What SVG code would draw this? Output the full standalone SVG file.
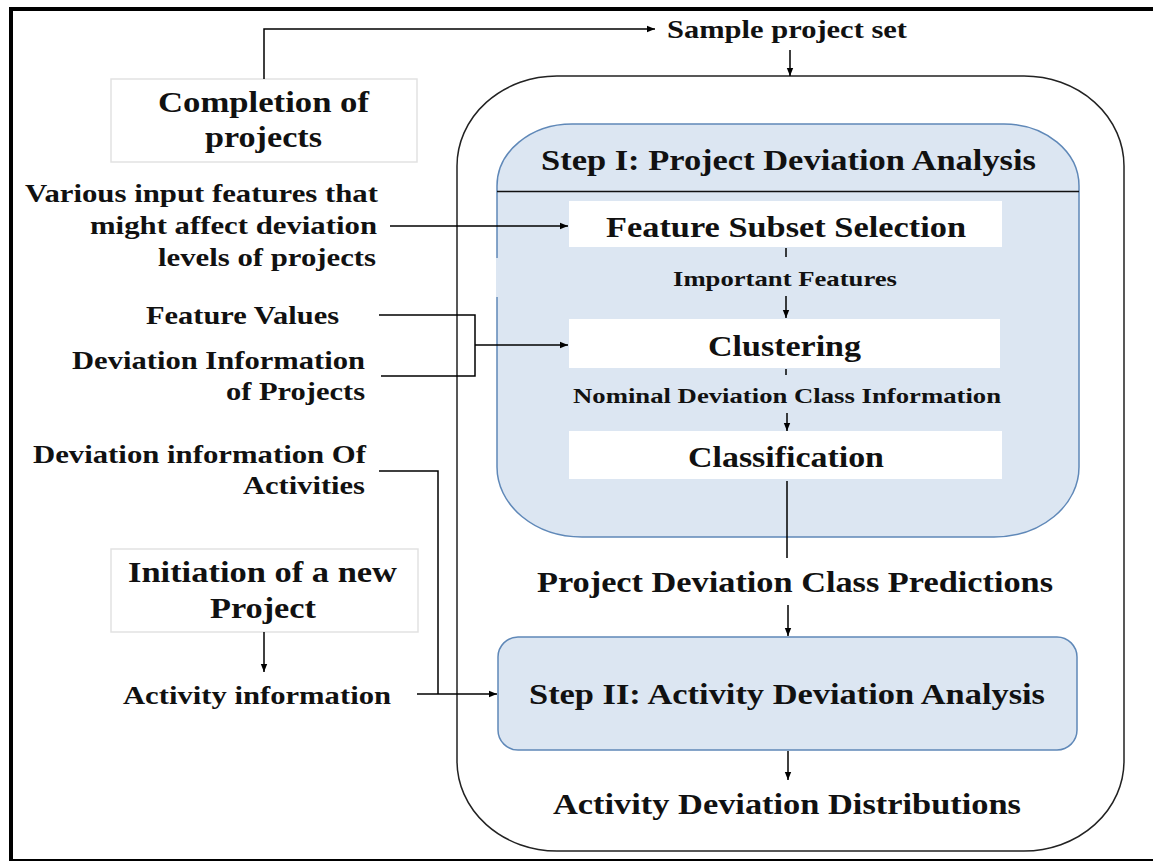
<svg xmlns="http://www.w3.org/2000/svg" width="1153" height="863" viewBox="0 0 1153 863">
<defs>
<marker id="ah" viewBox="0 0 10 10" refX="10" refY="5" markerWidth="9" markerHeight="8" markerUnits="userSpaceOnUse" orient="auto">
<path d="M0,1 L10,5 L0,9 z" fill="#000"/>
</marker>
<style>
text{font-family:"Liberation Serif","Times New Roman",serif;font-weight:bold;fill:#111;}
.big{font-size:30px;}
.mid{font-size:26px;}
.sm{font-size:22px;}
.ln{fill:none;stroke:#000;stroke-width:1.5;}
.blue{fill:#dce6f2;stroke:#5f88b8;stroke-width:1.5;}
.wbox{fill:#fff;stroke:none;}
.gbox{fill:#fff;stroke:#e2e2e2;stroke-width:1.5;}
</style>
</defs>
<rect width="1153" height="863" fill="#fff"/>
<g id="frame">
<line x1="9" y1="9" x2="1153" y2="9" stroke="#000" stroke-width="4"/>
<line x1="11" y1="7" x2="11" y2="861" stroke="#000" stroke-width="4"/>
<line x1="9" y1="860" x2="1153" y2="860" stroke="#000" stroke-width="2"/>
</g>
<g id="outer">
<rect x="457" y="76" width="667" height="775" rx="100" ry="90" fill="none" stroke="#222" stroke-width="1.5"/>
</g>
<g id="step1">
<path class="blue" d="M497,186 A75,62 0 0 1 572,124 H1004 A75,62 0 0 1 1079,186 V467 A85,70 0 0 1 994,537 H582 A85,70 0 0 1 497,467 Z"/>
<rect x="496" y="258" width="2.2" height="39" fill="#dce6f2"/>
<line x1="497" y1="191.5" x2="1079" y2="191.5" stroke="#111" stroke-width="1.5"/>
<text class="big" x="541" y="170" textLength="495" lengthAdjust="spacingAndGlyphs">Step I: Project Deviation Analysis</text>
</g>
<g id="fss">
<rect class="wbox" x="569" y="201" width="433" height="46"/>
<text class="big" x="606" y="237" textLength="360" lengthAdjust="spacingAndGlyphs">Feature Subset Selection</text>
</g>
<g id="clustering">
<rect class="wbox" x="569" y="319" width="431" height="49"/>
<text class="big" x="708" y="356" textLength="153" lengthAdjust="spacingAndGlyphs">Clustering</text>
</g>
<g id="classification">
<rect class="wbox" x="569" y="431" width="433" height="48"/>
<text class="big" x="688" y="467" textLength="196" lengthAdjust="spacingAndGlyphs">Classification</text>
</g>
<g id="step2">
<rect class="blue" x="498" y="637" width="579" height="113" rx="20" ry="20"/>
<text class="big" x="529" y="704" textLength="516" lengthAdjust="spacingAndGlyphs">Step II: Activity Deviation Analysis</text>
</g>
<g id="completion">
<rect class="gbox" x="111" y="79" width="306" height="83"/>
<text class="big" x="158" y="112" textLength="211" lengthAdjust="spacingAndGlyphs">Completion of</text>
<text class="big" x="205" y="147" textLength="117" lengthAdjust="spacingAndGlyphs">projects</text>
</g>
<g id="initiation">
<rect class="gbox" x="111" y="549" width="307" height="83"/>
<text class="big" x="128" y="582" textLength="269" lengthAdjust="spacingAndGlyphs">Initiation of a new</text>
<text class="big" x="210" y="618" textLength="106" lengthAdjust="spacingAndGlyphs">Project</text>
</g>
<g id="labels">
<text class="mid" x="667" y="38" textLength="240" lengthAdjust="spacingAndGlyphs">Sample project set</text>
<text class="mid" x="25" y="202" textLength="353" lengthAdjust="spacingAndGlyphs">Various input features that</text>
<text class="mid" x="90" y="234" textLength="287" lengthAdjust="spacingAndGlyphs">might affect deviation</text>
<text class="mid" x="158" y="266" textLength="218" lengthAdjust="spacingAndGlyphs">levels of projects</text>
<text class="mid" x="146" y="324" textLength="193" lengthAdjust="spacingAndGlyphs">Feature Values</text>
<text class="mid" x="72" y="369" textLength="293" lengthAdjust="spacingAndGlyphs">Deviation Information</text>
<text class="mid" x="226" y="400" textLength="139" lengthAdjust="spacingAndGlyphs">of Projects</text>
<text class="mid" x="33" y="463" textLength="333" lengthAdjust="spacingAndGlyphs">Deviation information Of</text>
<text class="mid" x="243" y="494" textLength="122" lengthAdjust="spacingAndGlyphs">Activities</text>
<text class="mid" x="123" y="704" textLength="268" lengthAdjust="spacingAndGlyphs">Activity information</text>
<text class="sm" x="673" y="286" textLength="224" lengthAdjust="spacingAndGlyphs">Important Features</text>
<text class="sm" x="573" y="403" textLength="428" lengthAdjust="spacingAndGlyphs">Nominal Deviation Class Information</text>
<text class="big" x="537" y="592" textLength="516" lengthAdjust="spacingAndGlyphs">Project Deviation Class Predictions</text>
<text class="big" x="553" y="814" textLength="468" lengthAdjust="spacingAndGlyphs">Activity Deviation Distributions</text>
</g>
<g id="connectors">
<path class="ln" d="M264,79 V29 H655" marker-end="url(#ah)"/>
<path class="ln" d="M790,50 V76" marker-end="url(#ah)"/>
<path class="ln" d="M390,226 H568" marker-end="url(#ah)"/>
<path class="ln" d="M786,248 V257"/>
<path class="ln" d="M786,296 V318" marker-end="url(#ah)"/>
<path class="ln" d="M379,315 H475 V376 H381"/>
<path class="ln" d="M475,345 H568" marker-end="url(#ah)"/>
<path class="ln" d="M786,369 V375"/>
<path class="ln" d="M787,413 V431" marker-end="url(#ah)"/>
<path class="ln" d="M787,481 V558"/>
<path class="ln" d="M788,605 V636" marker-end="url(#ah)"/>
<path class="ln" d="M788,751 V780" marker-end="url(#ah)"/>
<path class="ln" d="M379,471 H438 V694"/>
<path class="ln" d="M417,694 H497" marker-end="url(#ah)"/>
<path class="ln" d="M264,632 V672" marker-end="url(#ah)"/>
</g>
</svg>
